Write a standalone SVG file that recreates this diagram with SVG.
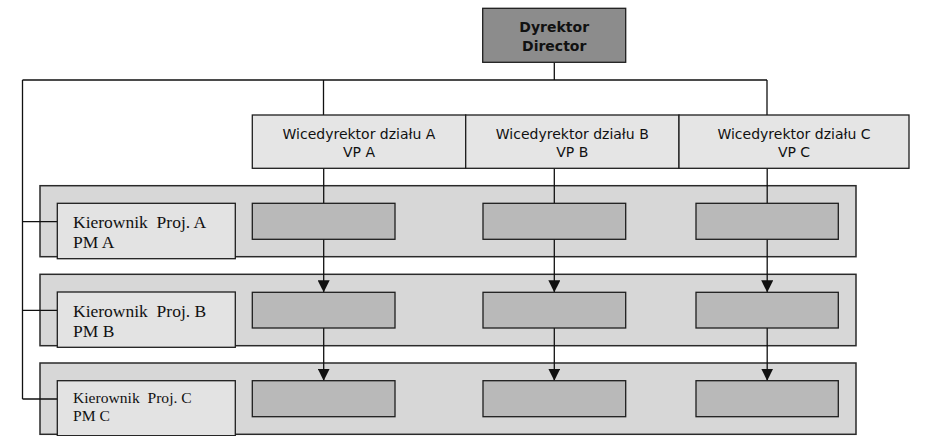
<svg xmlns="http://www.w3.org/2000/svg" width="937" height="436" viewBox="0 0 937 436">
<style>
.band{fill:#d7d7d7;stroke:#2a2a2a;stroke-width:1.5}
.dir{fill:#8c8c8c;stroke:#1e1e1e;stroke-width:1.3}
.vp{fill:#e5e5e5;stroke:#1e1e1e;stroke-width:1.3}
.pm{fill:#e3e3e3;stroke:#1e1e1e;stroke-width:1.3}
.task{fill:#b9b9b9;stroke:#1e1e1e;stroke-width:1.3}
.ln{fill:none;stroke:#111;stroke-width:1.3}
.sans{font-family:"DejaVu Sans","Verdana",sans-serif;font-size:14px;fill:#111;text-anchor:middle}
.bold{font-weight:bold}
.serif{font-family:"Liberation Serif","Times New Roman",serif;fill:#111}
</style>
<defs>
<marker id="arr" markerUnits="userSpaceOnUse" markerWidth="12" markerHeight="12" refX="12" refY="6" orient="auto">
<path d="M0,0 L12,6 L0,12 Z" fill="#111"/>
</marker>
</defs>
<rect width="937" height="436" fill="#fff"/>
<g id="bands">
<rect id="band-a" class="band" x="40" y="185.7" width="816" height="71"/>
<rect id="band-b" class="band" x="40" y="274.3" width="816" height="71.4"/>
<rect id="band-c" class="band" x="40" y="363" width="816" height="71.3"/>
</g>
<g id="connectors">
<path class="ln" d="M554.3,62.5 V80 M22.5,80 H767 M323.5,80 V115 M767,80 V115 M22.5,80 V399 M22.5,221.7 H57.3 M22.5,310.3 H57.3 M22.5,399 H57.3"/>
<path class="ln" d="M323.7,168.3 V203.3 M554.3,168.3 V203.3 M767.2,168.3 V203.3"/>
<path class="ln" d="M323.7,239.3 V292.3" marker-end="url(#arr)"/>
<path class="ln" d="M554.3,239.3 V292.3" marker-end="url(#arr)"/>
<path class="ln" d="M767.2,239.3 V292.3" marker-end="url(#arr)"/>
<path class="ln" d="M323.7,328 V380.7" marker-end="url(#arr)"/>
<path class="ln" d="M554.3,328 V380.7" marker-end="url(#arr)"/>
<path class="ln" d="M767.2,328 V380.7" marker-end="url(#arr)"/>
</g>
<g id="director">
<rect class="dir" x="482.7" y="8.3" width="143" height="54"/>
<text class="sans bold" x="554.2" y="32">Dyrektor</text>
<text class="sans bold" x="554.2" y="51">Director</text>
</g>
<g id="vp-a">
<rect class="vp" x="252.3" y="115" width="213.4" height="53.3"/>
<text class="sans" x="359" y="139.3">Wicedyrektor działu A</text>
<text class="sans" x="359" y="156.7">VP A</text>
</g>
<g id="vp-b">
<rect class="vp" x="465.7" y="115" width="213.3" height="53.3"/>
<text class="sans" x="572.3" y="139.3">Wicedyrektor działu B</text>
<text class="sans" x="572.3" y="156.7">VP B</text>
</g>
<g id="vp-c">
<rect class="vp" x="679" y="115" width="230" height="53.3"/>
<text class="sans" x="794" y="139.3">Wicedyrektor działu C</text>
<text class="sans" x="794" y="156.7">VP C</text>
</g>
<g id="pm-a">
<rect class="pm" x="57.3" y="203.3" width="178" height="55.4"/>
<text class="serif" x="73" y="228.3" font-size="17.5" xml:space="preserve">Kierownik  Proj. A</text>
<text class="serif" x="73" y="248" font-size="17.5">PM A</text>
</g>
<g id="pm-b">
<rect class="pm" x="57.3" y="292" width="178" height="55.3"/>
<text class="serif" x="73" y="316.7" font-size="17.5" xml:space="preserve">Kierownik  Proj. B</text>
<text class="serif" x="73" y="336.5" font-size="17.5">PM B</text>
</g>
<g id="pm-c">
<rect class="pm" x="57.3" y="380.7" width="178" height="55"/>
<text class="serif" x="73" y="403.3" font-size="15.6" xml:space="preserve">Kierownik  Proj. C</text>
<text class="serif" x="73" y="420.7" font-size="15.6">PM C</text>
</g>
<g id="task-a1"><rect class="task" x="252.3" y="203.3" width="142.7" height="36"/></g>
<g id="task-b1"><rect class="task" x="483" y="203.3" width="142.7" height="36"/></g>
<g id="task-c1"><rect class="task" x="696" y="203.3" width="142.3" height="36"/></g>
<g id="task-a2"><rect class="task" x="252.3" y="292.3" width="142.7" height="35.7"/></g>
<g id="task-b2"><rect class="task" x="483" y="292.3" width="142.7" height="35.7"/></g>
<g id="task-c2"><rect class="task" x="696" y="292.3" width="142.3" height="35.7"/></g>
<g id="task-a3"><rect class="task" x="252.3" y="380.7" width="142.7" height="36"/></g>
<g id="task-b3"><rect class="task" x="483" y="380.7" width="142.7" height="36"/></g>
<g id="task-c3"><rect class="task" x="696" y="380.7" width="142.3" height="36"/></g>
</svg>
